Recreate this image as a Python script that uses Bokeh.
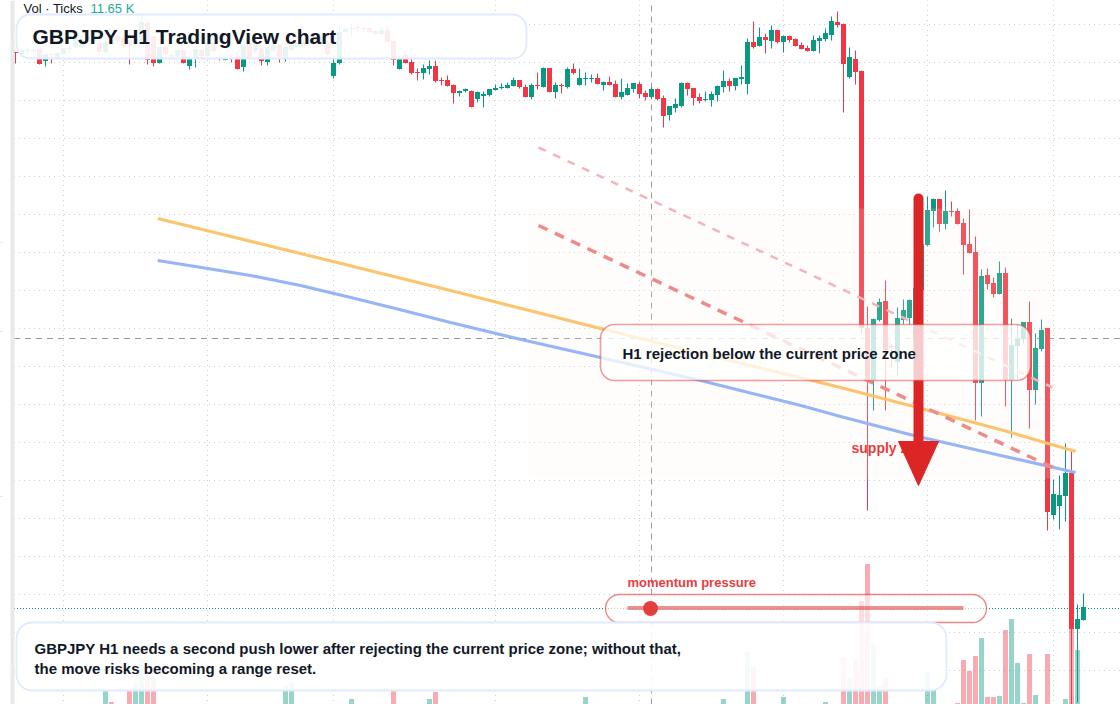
from bokeh.models import Range1d, BoxAnnotation, Label
from bokeh.plotting import figure
from bokeh.embed import file_html
from bokeh.resources import INLINE

opens = [219.48,219.46,219.49,219.49,219.51,219.39,219.46,219.42,219.46,219.51,
219.53,219.53,219.58,219.62,219.57,219.48,219.60,219.64,219.62,219.60,
219.56,219.58,219.77,219.64,219.37,219.53,219.45,219.44,219.50,219.34,
219.42,219.50,219.44,219.57,219.42,219.40,219.42,219.44,219.33,219.57,
219.49,219.52,219.38,219.50,219.55,219.42,219.50,219.53,219.54,219.56,
219.62,219.58,219.57,219.24,219.37,219.68,219.71,219.73,219.72,219.72,
219.69,219.66,219.70,219.59,219.31,219.45,219.38,219.28,219.27,219.31,
219.34,219.20,219.20,219.15,219.07,219.09,219.09,219.01,219.04,219.05,
219.10,219.12,219.12,219.14,219.20,219.13,219.03,219.15,219.13,219.32,
219.08,219.15,219.13,219.31,219.15,219.21,219.21,219.22,219.15,219.18,
219.16,219.03,219.05,219.11,219.16,219.07,219.03,219.11,219.02,218.85,
218.92,218.94,219.17,219.12,219.03,219.00,219.00,219.05,219.13,219.19,
219.14,219.21,219.16,219.58,219.54,219.63,219.59,219.70,219.58,219.64,
219.61,219.55,219.52,219.49,219.59,219.61,219.65,219.78,219.76,219.23,
219.41,219.29,216.72,216.20,216.80,216.99,216.54,216.38,216.80,216.82,
216.60,217.10,217.55,217.89,218.01,217.76,217.89,217.89,217.77,217.56,
217.48,216.17,217.25,217.17,217.06,217.27,216.20,216.54,216.61,216.78,
216.10,216.51,216.72,214.85,214.94,215.04,215.27,213.71,213.80]
highs = [219.48,219.52,219.53,219.53,219.51,219.46,219.46,219.48,219.52,219.56,
219.63,219.64,219.67,219.64,219.60,219.60,219.62,219.66,219.64,219.72,
219.66,219.85,219.80,219.64,219.53,219.55,219.48,219.51,219.50,219.45,
219.51,219.51,219.60,219.58,219.46,219.46,219.45,219.47,219.54,219.58,
219.59,219.54,219.54,219.57,219.55,219.53,219.60,219.59,219.60,219.62,
219.64,219.66,219.60,219.45,219.74,219.73,219.77,219.76,219.75,219.73,
219.70,219.74,219.75,219.59,219.45,219.49,219.45,219.32,219.36,219.40,
219.40,219.23,219.25,219.16,219.10,219.12,219.10,219.09,219.09,219.11,
219.16,219.17,219.18,219.23,219.20,219.16,219.17,219.28,219.33,219.32,
219.18,219.17,219.33,219.37,219.32,219.28,219.26,219.27,219.19,219.24,
219.20,219.22,219.17,219.17,219.19,219.10,219.13,219.12,219.05,218.94,
219.02,219.18,219.18,219.12,219.07,219.09,219.09,219.15,219.30,219.22,
219.22,219.35,219.62,219.79,219.73,219.67,219.75,219.70,219.65,219.65,
219.62,219.58,219.55,219.65,219.65,219.72,219.84,219.89,219.77,219.53,
219.50,219.30,216.94,216.82,217.02,217.20,216.56,216.93,217.01,217.01,
217.15,217.60,218.04,218.02,218.01,218.10,217.99,217.92,217.82,217.91,
217.64,217.31,217.32,217.23,217.39,217.33,216.82,216.76,216.78,216.99,
216.67,216.81,216.72,215.21,215.25,215.57,215.50,213.96,214.07]
lows = [219.37,219.46,219.46,219.46,219.36,219.34,219.37,219.42,219.46,219.48,
219.52,219.52,219.56,219.57,219.46,219.47,219.55,219.58,219.53,219.36,
219.54,219.56,219.36,219.34,219.37,219.45,219.42,219.43,219.37,219.31,
219.33,219.43,219.44,219.48,219.40,219.40,219.38,219.31,219.29,219.42,
219.48,219.35,219.35,219.49,219.38,219.39,219.50,219.52,219.53,219.55,
219.57,219.57,219.45,219.22,219.36,219.68,219.64,219.68,219.68,219.68,
219.66,219.66,219.58,219.35,219.31,219.37,219.26,219.20,219.21,219.26,
219.18,219.15,219.14,218.97,219.04,219.08,218.93,218.98,218.93,219.04,
219.10,219.11,219.12,219.14,219.12,219.03,219.01,219.11,219.13,219.08,
219.02,219.07,219.12,219.26,219.15,219.15,219.18,219.16,219.10,219.15,
219.03,219.01,219.05,219.08,219.02,219.00,219.02,219.00,218.73,218.80,
218.88,218.93,219.05,218.95,218.97,218.99,218.94,218.99,219.08,219.09,
219.10,219.16,219.06,219.52,219.54,219.47,219.52,219.57,219.48,219.58,
219.54,219.51,219.49,219.49,219.47,219.59,219.60,219.73,218.88,219.22,
219.16,216.67,214.90,215.90,216.79,215.90,216.33,216.25,216.76,216.76,
216.55,217.08,217.54,217.73,217.69,217.71,217.84,217.76,217.26,217.47,
215.80,215.84,217.11,217.03,217.06,215.94,215.63,216.21,216.57,215.72,
215.96,216.49,214.70,214.81,214.71,214.79,212.80,212.98,213.80]
closes = [219.47,219.50,219.50,219.50,219.36,219.46,219.45,219.47,219.52,219.52,
219.62,219.60,219.64,219.58,219.48,219.58,219.56,219.59,219.54,219.54,
219.62,219.78,219.40,219.37,219.53,219.46,219.44,219.50,219.37,219.42,
219.51,219.44,219.58,219.49,219.41,219.42,219.41,219.31,219.54,219.42,
219.57,219.39,219.53,219.55,219.43,219.53,219.55,219.57,219.58,219.60,
219.58,219.64,219.46,219.37,219.68,219.71,219.72,219.72,219.71,219.68,
219.66,219.70,219.58,219.40,219.42,219.37,219.27,219.27,219.32,219.34,
219.19,219.19,219.14,219.07,219.09,219.11,218.93,219.08,219.06,219.11,
219.12,219.13,219.15,219.20,219.13,219.03,219.15,219.14,219.32,219.08,
219.15,219.14,219.31,219.27,219.22,219.22,219.22,219.16,219.18,219.15,
219.03,219.08,219.12,219.17,219.06,219.03,219.11,219.01,218.84,218.94,
218.96,219.17,219.11,219.02,218.99,219.01,219.06,219.14,219.19,219.14,
219.22,219.23,219.58,219.53,219.63,219.60,219.70,219.58,219.64,219.60,
219.54,219.51,219.49,219.60,219.62,219.67,219.79,219.75,219.36,219.43,
219.28,216.72,216.20,216.81,216.98,216.50,216.53,216.82,216.90,217.00,
217.12,217.56,217.90,218.01,217.76,217.89,217.88,217.76,217.55,217.47,
216.17,217.24,217.16,217.06,217.27,216.20,216.55,216.61,216.78,216.10,
216.52,216.70,214.88,215.06,215.05,215.27,213.71,213.81,213.93]

vol_index = [15,16,19,20,21,22,23,45,46,56,63,69,70,95,118,122,123,128,135,138,139,140,141,142,143,144,145,
             152,153,157,158,159,160,161,162,163,164,165,166,167,168,169,170,172,175,176,177]
vol_k = [1.3,0.2,1.4,2.0,4.5,2.7,2.7,1.8,2.2,0.5,1.3,0.5,1.2,0.7,0.5,5.2,3.7,0.7,0.2,4.7,2.6,4.4,10.3,14.0,6.0,1.8,2.6,
         3.2,1.4,0.1,4.4,3.3,4.8,6.6,0.7,0.7,0.8,7.4,8.5,4.1,0.1,5.0,0.9,5.0,0.5,7.5,5.4]

ma_slow_index = [23.7,47.5,72.5,97.5,114.2,137.5,149.7,164.7,176.7]
ma_slow = [217.82,217.47,217.10,216.72,216.47,216.13,215.94,215.70,215.49]
ma_fast_index = [23.7,31.0,39.2,47.5,55.9,64.0,72.5,85.0,97.5,114.2,130.9,137.5,149.7,164.2,176.7]
ma_fast = [217.40,217.33,217.25,217.15,217.03,216.91,216.78,216.60,216.43,216.20,215.95,215.84,215.65,215.45,215.28]

grid_bars = [8,32,53,80,104,128,152,173]
grid_prices = [219.76,219.38,219.00,218.62,218.24,217.86,217.48,217.10,216.72,216.34,215.96,215.58,215.20,214.82,214.44,214.06,213.68,213.30]
last_price = 213.92
cursor_price = 216.62
cursor_bar = 106

TITLE = "GBPJPY H1 TradingView chart"
CALLOUT = "H1 rejection below the current price zone"
ZONE = "supply zone"
GAUGE = "momentum pressure"
NOTE_1 = "GBPJPY H1 needs a second push lower after rejecting the current price zone; without that,"
NOTE_2 = "the move risks becoming a range reset."

W, H = 1120, 704
UP, DOWN = "#089981", "#f23645"
FONT = "Liberation Sans"
SNAP = 0.005  # half a pixel on the price scale, so that body edges fall on whole pixels

def X(px):
    return (px - 15) / 6
def Y(px):
    return 220 - px / 100

p = figure(width=W, height=H, output_backend="svg", toolbar_location=None,
           x_range=Range1d(X(0), X(W)), y_range=Range1d(Y(H), Y(0)),
           min_border=0, min_border_left=0, min_border_right=0, min_border_top=0, min_border_bottom=0,
           outline_line_color=None, background_fill_color="white", border_fill_color="white")
p.xaxis.visible = False
p.yaxis.visible = False
p.xgrid[0].grid_line_color = None
p.ygrid[0].grid_line_color = None

p.extra_y_ranges = {"vol": Range1d(0, H / 10)}

# dotted grid, started half a pixel early so that its dots fall on whole pixels
p.segment(x0=grid_bars, x1=grid_bars, y0=[Y(-0.5)] * len(grid_bars), y1=[Y(H)] * len(grid_bars),
          line_color="#cfcfcf", line_width=1, line_dash="1 4")
p.segment(x0=[X(13.5)] * len(grid_prices), x1=[X(W)] * len(grid_prices), y0=grid_prices, y1=grid_prices,
          line_color="#cfcfcf", line_width=1, line_dash="1 4")

vol_colors = [UP if closes[k] >= opens[k] else DOWN for k in vol_index]
p.vbar(x=vol_index, width=5 / 6, top=[v + 0.05 for v in vol_k], bottom=-1, y_range_name="vol",
       fill_color=vol_colors, fill_alpha=0.42, line_color=None)

p.line([X(13.5), X(W)], [last_price, last_price], line_color=UP, line_width=1, line_dash="1 2")
p.line([X(13.5), X(W)], [cursor_price, cursor_price], line_color="#9a9a9a", line_width=1, line_dash="6 5")
p.line([cursor_bar, cursor_bar], [Y(H), Y(0)], line_color="#9a9a9a", line_width=1, line_dash="6 5")

idx = list(range(len(opens)))
colors = [UP if c >= o else DOWN for o, c in zip(opens, closes)]
p.segment(x0=idx, x1=idx, y0=lows, y1=highs, line_color=colors, line_width=1)
p.vbar(x=idx, width=5 / 6, top=[max(o, c) + SNAP for o, c in zip(opens, closes)],
       bottom=[min(o, c) + SNAP for o, c in zip(opens, closes)], fill_color=colors, line_color=None)

def over(r):
    r.level = "annotation"
    return r

def add(a):
    a.level = "annotation"
    p.renderers.append(a)
    return a

def box(l, r, t, b, fill, alpha, line=None, line_alpha=1.0, lw=1.0, radius=0):
    return add(BoxAnnotation(left=X(l), right=X(r), top=Y(t), bottom=Y(b),
                             fill_color=fill, fill_alpha=alpha, line_color=line,
                             line_alpha=line_alpha, line_width=lw, border_radius=radius))

def label(px, py, text, size, color, bold=True):
    return add(Label(x=X(px), y=Y(py), text=text, text_font=FONT, text_font_size=f"{size}px",
                     text_font_style="bold" if bold else "normal", text_color=color,
                     text_baseline="middle", text_align="left"))

box(0, 10, 0, H, "white", 1)
box(10, 14, 0, H, "#e9e9e9", 1)
for tick in (242, 331, 496):
    over(p.line([X(0), X(2)], [Y(tick), Y(tick)], line_color="#dddddd", line_width=1))

label(23, 8, "Vol · Ticks", 13, "#131722", bold=False)
label(90, 8, "11.65 K", 13, "#22ab94", bold=False)

box(528, 1052, 208, 478, "#fff2e6", 0.16)
over(p.line(ma_slow_index, ma_slow, line_color="#fcc46c", line_width=3.2, line_join="round"))
over(p.line(ma_fast_index, ma_fast, line_color="#97b4f7", line_width=3.2, line_join="round"))
over(p.line([X(538), X(1052)], [Y(147), Y(387)], line_color="#f4b4ba", line_width=2.5, line_dash="8 8"))
over(p.line([X(538), X(1052)], [Y(225), Y(467)], line_color="#ef8a8a", line_width=3.5, line_dash="10 8"))

label(851, 447.5, ZONE, 14, "#e53e3e")

over(p.line([X(918), X(918)], [Y(198), Y(445)], line_color="#dc2626", line_width=10, line_cap="round"))
over(p.patch([X(898), X(938), X(918)], [Y(441), Y(441), Y(485)], fill_color="#dc2626", line_color="#dc2626"))

box(600, 1030, 324, 380, "white", 0.76, line="#dc2626", line_alpha=0.45, lw=1.6, radius=14)
label(622, 352.5, CALLOUT, 15, "#111827")

label(627, 581.5, GAUGE, 13, "#e53e3e")
box(605, 986, 594, 622, "white", 0.6, line="#dc2626", line_alpha=0.55, lw=1.4, radius=14)
over(p.line([X(627), X(963)], [Y(607.5), Y(607.5)], line_color="#e25555", line_alpha=0.65, line_width=4))
over(p.scatter([X(650)], [Y(608)], size=15, marker="circle", fill_color="#e53e3e", line_color=None))

box(16, 946, 622, 690, "white", 0.9, line="#e0ebfd", lw=1.8, radius=16)
label(34, 647.5, NOTE_1, 15, "#111827")
label(34, 667.5, NOTE_2, 15, "#111827")
box(16, 526, 14, 58, "white", 0.9, line="#e0ebfd", lw=1.8, radius=14)
label(32, 36, TITLE, 21, "#111827")

open("out.html", "w").write(file_html(p, INLINE))
